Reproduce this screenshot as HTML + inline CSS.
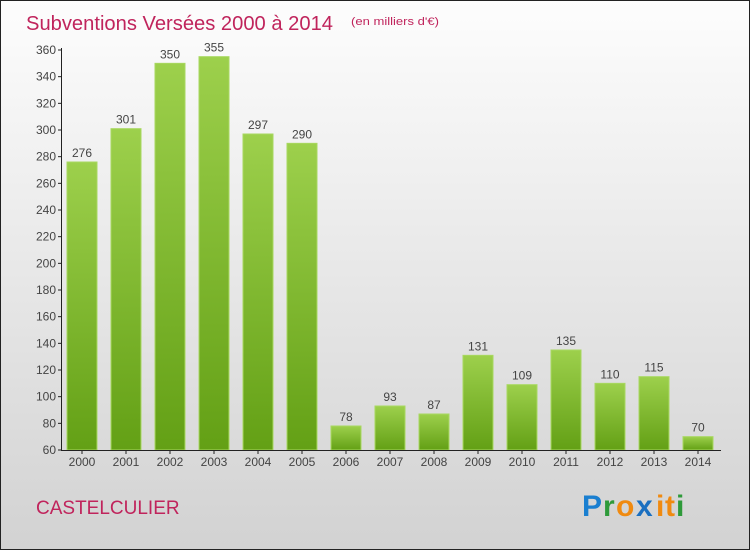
<!DOCTYPE html>
<html><head><meta charset="utf-8"><style>
html,body{margin:0;padding:0}
body{width:750px;height:550px;overflow:hidden;font-family:"Liberation Sans",sans-serif}
</style></head><body>
<svg id="chart" width="750" height="550" xmlns="http://www.w3.org/2000/svg">
<defs>
<linearGradient id="bg" x1="0" y1="0" x2="0" y2="1"><stop offset="0" stop-color="#fdfdfd"/><stop offset="1" stop-color="#d2d2d2"/></linearGradient>
<linearGradient id="bar" x1="0" y1="0" x2="0" y2="1"><stop offset="0" stop-color="#9dd04c"/><stop offset="1" stop-color="#63a015"/></linearGradient>
</defs>
<rect x="0.5" y="0.5" width="749" height="549" fill="url(#bg)" stroke="#222" stroke-width="1"/>
<text x="26" y="30" font-size="20" fill="#c0245c" textLength="307" lengthAdjust="spacingAndGlyphs">Subventions Versées 2000 à 2014</text>
<text x="351" y="25" font-size="11" fill="#c0245c" textLength="88" lengthAdjust="spacingAndGlyphs">(en milliers d'€)</text>
<g id="plot"></g>
<text x="36" y="514" font-size="19" fill="#c0245c">CASTELCULIER</text>
<g font-size="30" font-weight="bold" font-family="'Liberation Sans',sans-serif">
<text x="582" y="516" fill="#1a7fd0">P</text><text x="603" y="516" fill="#2e9a3a">r</text><text x="616" y="516" fill="#f08a10">o</text><text x="636" y="516" fill="#1a6fc0">x</text><text x="656" y="516" fill="#f08a10">i</text><text x="665" y="516" fill="#f08a10">t</text><text x="676" y="516" fill="#2e9a3a">i</text>
</g>
</svg>
<script>
const categories=["2000","2001","2002","2003","2004","2005","2006","2007","2008","2009","2010","2011","2012","2013","2014"];
const values=[276,301,350,355,297,290,78,93,87,131,109,135,110,115,70];
const yTicks=[60,80,100,120,140,160,180,200,220,240,260,280,300,320,340,360];
const NS="http://www.w3.org/2000/svg";
const g=document.getElementById('plot');
const y0=450,y1=50,vmin=60,vmax=360;
const y=v=>y0-(v-vmin)/(vmax-vmin)*(y0-y1);
const x=i=>82+i*44;
function mk(t,a){const e=document.createElementNS(NS,t);for(const k in a)e.setAttribute(k,a[k]);g.appendChild(e);return e;}
yTicks.forEach(v=>{
 const t=mk('line',{x1:58,x2:62,y1:y(v),y2:y(v),stroke:'#222'});
 
 
 const l=mk('text',{x:56,y:y(v)+4,'text-anchor':'end','font-size':12,fill:'#444'});
 l.textContent=v;
 
 
});
categories.forEach((c,i)=>{
 const b=mk('rect',{x:x(i)-15,y:y(values[i]),width:30,height:y0-y(values[i]),fill:'url(#bar)',stroke:'#a8d860','stroke-width':1});
 
 
 const v=mk('text',{x:x(i),y:y(values[i])-5,'text-anchor':'middle','font-size':12,fill:'#444'});
 v.textContent=values[i];
 
 
 const tk=mk('line',{x1:x(i),x2:x(i),y1:450,y2:454,stroke:'#222'});
 
 
 const l=mk('text',{x:x(i),y:466,'text-anchor':'middle','font-size':12,fill:'#444'});
 l.textContent=c;
 
 
});
const ya=mk('line',{x1:61.5,x2:61.5,y1:48,y2:450,stroke:'#222'});


const xa=mk('line',{x1:61,x2:721,y1:450.5,y2:450.5,stroke:'#222'});


</script>
</body></html>
